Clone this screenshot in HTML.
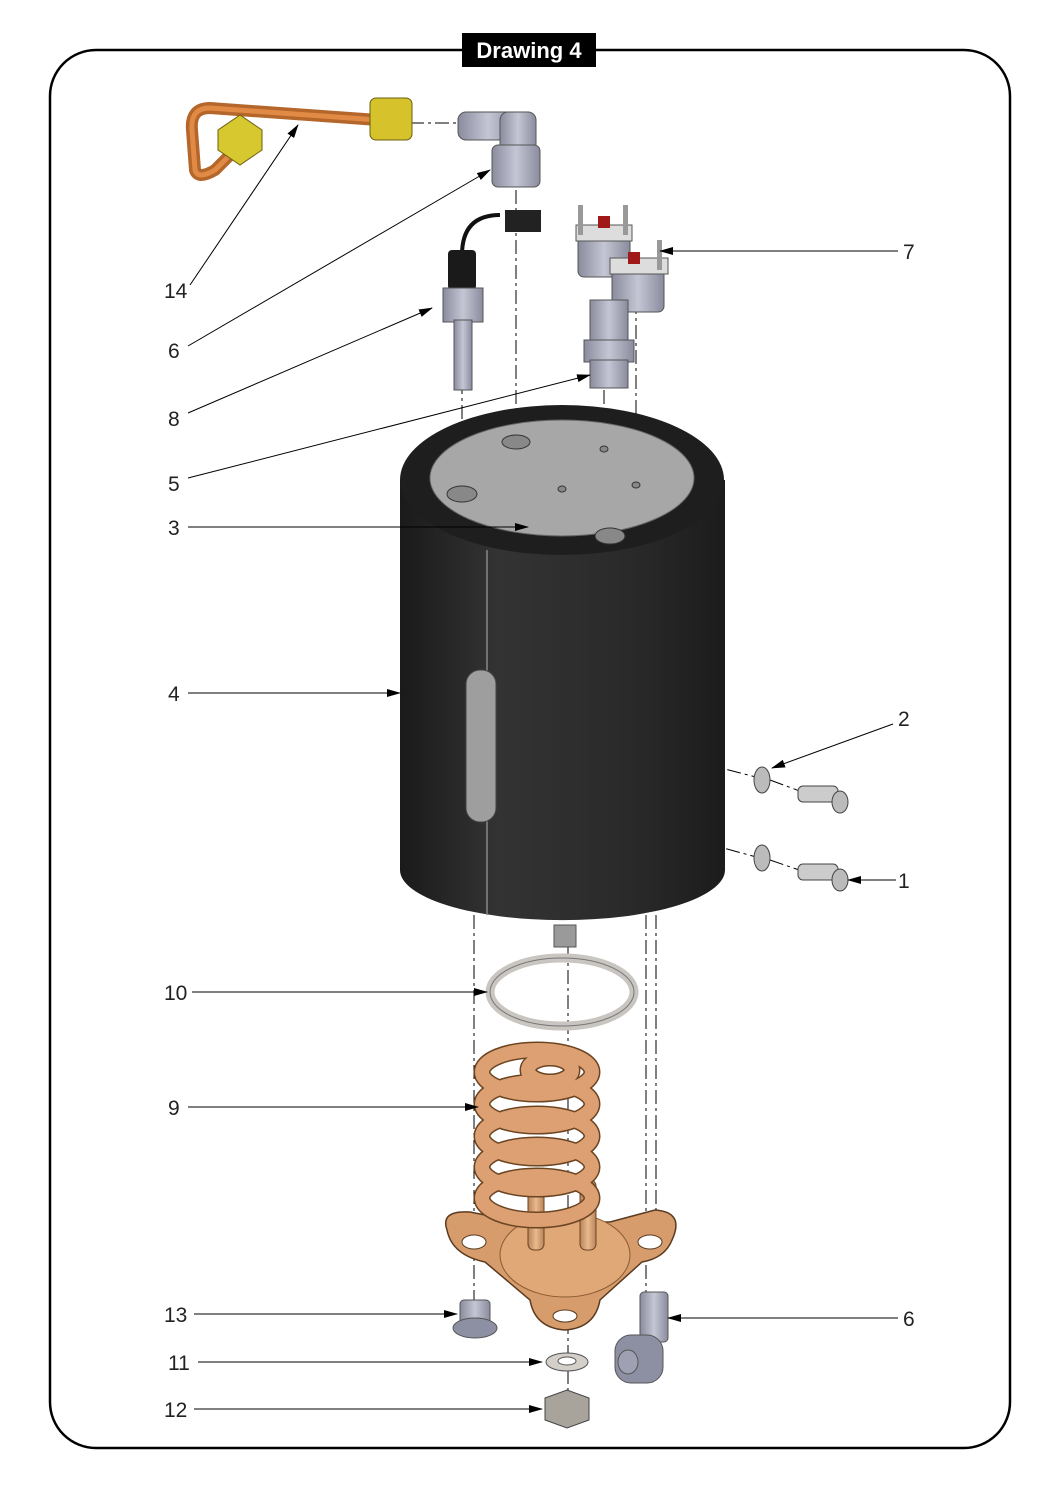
<!DOCTYPE html>
<html><head><meta charset="utf-8"><style>
html,body{margin:0;padding:0;background:#fff}
svg{display:block}
text{font-family:"Liberation Sans",sans-serif}
</style></head><body>
<svg width="1061" height="1500" viewBox="0 0 1061 1500" xmlns="http://www.w3.org/2000/svg">
<defs>
<marker id="a" markerWidth="14" markerHeight="8" refX="13" refY="4" orient="auto" markerUnits="userSpaceOnUse"><path d="M0,0 L14,4 L0,8 z" fill="#000"/></marker>
<linearGradient id="cyl" x1="0" x2="1"><stop offset="0" stop-color="#1a1a1a"/><stop offset="0.3" stop-color="#333"/><stop offset="0.7" stop-color="#2a2a2a"/><stop offset="1" stop-color="#1c1c1c"/></linearGradient>
<linearGradient id="cop" x1="0" x2="1"><stop offset="0" stop-color="#b8835a"/><stop offset="0.5" stop-color="#eab98d"/><stop offset="1" stop-color="#b8835a"/></linearGradient>
<linearGradient id="gry" x1="0" x2="1"><stop offset="0" stop-color="#8a8c9e"/><stop offset="0.5" stop-color="#c4c6d4"/><stop offset="1" stop-color="#8a8c9e"/></linearGradient>
</defs>
<rect x="50" y="50" width="960" height="1398" rx="46" fill="none" stroke="#000" stroke-width="2.5"/>
<rect x="462" y="33" width="134" height="34" fill="#000"/>
<text x="529" y="58" font-size="22" font-weight="bold" fill="#fff" text-anchor="middle">Drawing 4</text>

<g stroke="#000" stroke-width="1" stroke-dasharray="14,4,3,4" fill="none">
<line x1="410" y1="123" x2="460" y2="123"/>
<line x1="516" y1="190" x2="516" y2="445"/>
<line x1="462" y1="380" x2="462" y2="495"/>
<line x1="604" y1="390" x2="604" y2="450"/>
<line x1="636" y1="300" x2="636" y2="485"/>
<line x1="485" y1="708" x2="760" y2="778"/>
<line x1="485" y1="783" x2="760" y2="858"/>
<line x1="770" y1="780" x2="805" y2="793"/>
<line x1="770" y1="860" x2="805" y2="872"/>
<line x1="474" y1="915" x2="474" y2="1315"/>
<line x1="568" y1="945" x2="568" y2="1400"/>
<line x1="646" y1="915" x2="646" y2="1300"/>
<line x1="656" y1="915" x2="656" y2="1250"/>
</g>

<path d="M378,120 L210,108 Q190,108 192,130 L195,170 Q198,180 215,170 L235,150" fill="none" stroke="#b5662a" stroke-width="12" stroke-linejoin="round"/>
<path d="M378,120 L210,108 Q190,108 192,130 L195,170 Q198,180 215,170 L235,150" fill="none" stroke="#e08a45" stroke-width="5"/>
<rect x="370" y="98" width="42" height="42" rx="6" fill="#d6c22a" stroke="#6b5f10"/>
<polygon points="218,130 240,115 262,130 262,150 240,165 218,150" fill="#d8c830" stroke="#6b5f10"/>

<rect x="458" y="112" width="60" height="28" rx="8" fill="url(#gry)" stroke="#555"/>
<rect x="500" y="112" width="36" height="50" rx="8" fill="url(#gry)" stroke="#555"/>
<rect x="492" y="145" width="48" height="42" rx="6" fill="url(#gry)" stroke="#555"/>

<path d="M462,255 Q462,215 500,215" fill="none" stroke="#111" stroke-width="4"/>
<rect x="505" y="210" width="36" height="22" fill="#222"/>
<rect x="448" y="250" width="28" height="40" rx="4" fill="#1a1a1a"/>
<rect x="443" y="288" width="40" height="34" fill="url(#gry)" stroke="#555"/>
<rect x="454" y="320" width="18" height="70" fill="url(#gry)" stroke="#555"/>

<g stroke="#555">
<rect x="578" y="232" width="52" height="45" rx="6" fill="url(#gry)"/>
<rect x="612" y="262" width="52" height="50" rx="6" fill="url(#gry)"/>
<rect x="576" y="225" width="56" height="16" fill="#ddd"/>
<rect x="610" y="258" width="58" height="16" fill="#ddd"/>
</g>
<rect x="598" y="216" width="12" height="12" fill="#a01818"/>
<rect x="628" y="252" width="12" height="12" fill="#a01818"/>
<rect x="578" y="205" width="5" height="30" fill="#999"/><rect x="623" y="205" width="5" height="30" fill="#999"/>
<rect x="657" y="240" width="5" height="30" fill="#999"/>

<rect x="590" y="300" width="38" height="42" fill="url(#gry)" stroke="#555"/>
<rect x="584" y="340" width="50" height="22" fill="url(#gry)" stroke="#555"/>
<rect x="590" y="360" width="38" height="28" fill="url(#gry)" stroke="#555"/>

<path d="M400,480 L400,870 A162,50 0 0 0 725,870 L725,480 Z" fill="url(#cyl)"/>
<ellipse cx="562" cy="480" rx="162" ry="75" fill="#1e1e1e"/>
<ellipse cx="562" cy="478" rx="132" ry="58" fill="#a7a7a7" stroke="#666"/>
<line x1="487" y1="550" x2="487" y2="915" stroke="#888" stroke-width="1.5"/>
<g fill="#888" stroke="#333">
<ellipse cx="516" cy="442" rx="14" ry="7"/><ellipse cx="462" cy="494" rx="15" ry="8"/>
<ellipse cx="610" cy="536" rx="15" ry="8"/><ellipse cx="604" cy="449" rx="4" ry="3"/>
<ellipse cx="636" cy="485" rx="4" ry="3"/><ellipse cx="562" cy="489" rx="4" ry="3"/>
</g>
<rect x="466" y="670" width="30" height="152" rx="14" fill="#9e9e9e" stroke="#444"/>

<g stroke="#444">
<ellipse cx="762" cy="780" rx="8" ry="13" fill="#bbb"/><ellipse cx="762" cy="858" rx="8" ry="13" fill="#bbb"/>
<rect x="798" y="786" width="40" height="16" rx="5" fill="#ccc"/><ellipse cx="840" cy="802" rx="8" ry="11" fill="#bbb"/>
<rect x="798" y="864" width="40" height="16" rx="5" fill="#ccc"/><ellipse cx="840" cy="880" rx="8" ry="11" fill="#bbb"/>
</g>

<rect x="554" y="925" width="22" height="22" fill="#9a9a9a" stroke="#555"/>
<ellipse cx="562" cy="992" rx="72" ry="34" fill="none" stroke="#c9c5c0" stroke-width="9"/>
<ellipse cx="562" cy="992" rx="72" ry="34" fill="none" stroke="#777" stroke-width="1"/>

<path d="M447,1230 Q440,1210 470,1212 L520,1222 L610,1222 L655,1210 Q685,1212 672,1240 Q665,1258 642,1262 L600,1300 Q595,1328 565,1330 Q535,1328 530,1300 L485,1262 Q452,1255 447,1230 Z" fill="#d69c6c" stroke="#5a3b1f" stroke-width="1.5"/>
<ellipse cx="565" cy="1255" rx="65" ry="42" fill="#e0a777" stroke="#8a5a30"/>
<ellipse cx="474" cy="1242" rx="12" ry="7" fill="#fff" stroke="#5a3b1f"/>
<ellipse cx="650" cy="1242" rx="12" ry="7" fill="#fff" stroke="#5a3b1f"/>
<ellipse cx="565" cy="1316" rx="12" ry="6" fill="#fff" stroke="#5a3b1f"/>
<rect x="528" y="1180" width="16" height="70" rx="6" fill="url(#cop)" stroke="#6b4422"/>
<rect x="580" y="1180" width="16" height="70" rx="6" fill="url(#cop)" stroke="#6b4422"/>
<g fill="none">
<g stroke="#6b4422" stroke-width="17">
<ellipse cx="537" cy="1198" rx="55" ry="22"/><ellipse cx="537" cy="1167" rx="55" ry="22"/>
<ellipse cx="537" cy="1136" rx="55" ry="22"/><ellipse cx="537" cy="1104" rx="55" ry="22"/>
<ellipse cx="537" cy="1072" rx="55" ry="22"/>
<ellipse cx="550" cy="1070" rx="22" ry="12"/></g>
<g stroke="#dca073" stroke-width="14">
<ellipse cx="537" cy="1198" rx="55" ry="22"/><ellipse cx="537" cy="1167" rx="55" ry="22"/>
<ellipse cx="537" cy="1136" rx="55" ry="22"/><ellipse cx="537" cy="1104" rx="55" ry="22"/>
<ellipse cx="537" cy="1072" rx="55" ry="22"/>
<ellipse cx="550" cy="1070" rx="22" ry="12"/></g>
</g>

<rect x="460" y="1300" width="30" height="25" rx="4" fill="url(#gry)" stroke="#555"/>
<ellipse cx="475" cy="1328" rx="22" ry="10" fill="#8d8fa3" stroke="#555"/>
<ellipse cx="567" cy="1362" rx="21" ry="9" fill="#d4cfc8" stroke="#555"/>
<ellipse cx="567" cy="1361" rx="9" ry="4" fill="#fff" stroke="#555"/>
<polygon points="545,1398 567,1390 589,1398 589,1420 567,1428 545,1420" fill="#a8a49c" stroke="#444"/>
<rect x="640" y="1292" width="28" height="50" rx="4" fill="url(#gry)" stroke="#555"/>
<rect x="615" y="1335" width="48" height="48" rx="16" fill="#8d8fa3" stroke="#555"/>
<ellipse cx="628" cy="1362" rx="10" ry="12" fill="#9fa1b2" stroke="#555"/>

<g stroke="#000" stroke-width="1" fill="none" marker-end="url(#a)">
<line x1="190" y1="285" x2="298" y2="125"/>
<line x1="188" y1="346" x2="490" y2="170"/>
<line x1="188" y1="413" x2="432" y2="308"/>
<line x1="188" y1="478" x2="590" y2="375"/>
<line x1="188" y1="527" x2="528" y2="527"/>
<line x1="188" y1="693" x2="400" y2="693"/>
<line x1="192" y1="992" x2="487" y2="992"/>
<line x1="188" y1="1107" x2="478" y2="1107"/>
<line x1="194" y1="1314" x2="457" y2="1314"/>
<line x1="198" y1="1362" x2="542" y2="1362"/>
<line x1="194" y1="1409" x2="542" y2="1409"/>
<line x1="898" y1="251" x2="660" y2="251"/>
<line x1="893" y1="724" x2="772" y2="768"/>
<line x1="896" y1="880" x2="848" y2="880"/>
<line x1="898" y1="1318" x2="668" y2="1318"/>
</g>
<g font-size="21" fill="#222">
<text x="164" y="298">14</text><text x="168" y="358">6</text><text x="168" y="426">8</text>
<text x="168" y="491">5</text><text x="168" y="535">3</text><text x="168" y="701">4</text>
<text x="164" y="1000">10</text><text x="168" y="1115">9</text><text x="164" y="1322">13</text>
<text x="168" y="1370">11</text><text x="164" y="1417">12</text>
<text x="903" y="259">7</text><text x="898" y="726">2</text><text x="898" y="888">1</text><text x="903" y="1326">6</text>
</g>
</svg>
</body></html>
